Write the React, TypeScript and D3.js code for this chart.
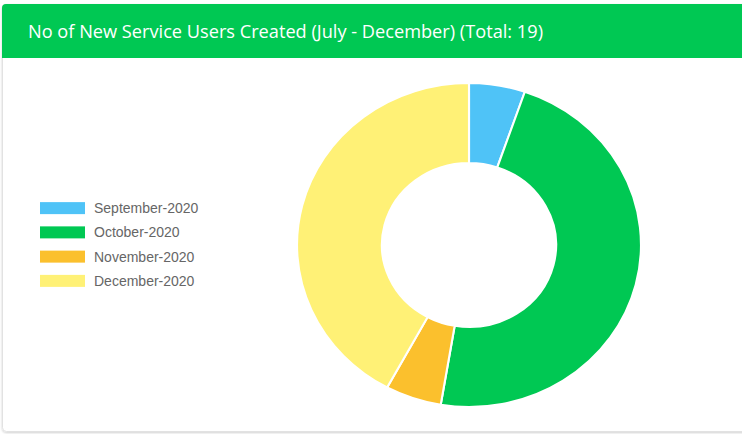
import React from "react";
import * as d3 from "d3";

const categories = ["September-2020", "October-2020", "November-2020", "December-2020"];
const values = [1, 9, 1, 8];
const colors = ["#4fc3f7", "#00c853", "#fbc02d", "#fff176"];
const title = "No of New Service Users Created (July - December) (Total: 19)";

export default function App() {
  const W = 742, H = 434;
  const cx = 469, cy = 245;
  const rOuter = 162, rInner = 82;
  const sx = 172 / 162;
  const pie = d3.pie<number>().sort(null).value((d) => d).startAngle(0).endAngle(2 * Math.PI);
  const arcs = pie(values);
  const arc = d3.arc<d3.PieArcDatum<number>>().innerRadius(rInner).outerRadius(rOuter);
  const legendY = d3.scaleBand<string>().domain(categories).range([196, 293]);

  return (
    <div style={{ position: "absolute", left: 0, top: 0 }}>
      <svg width={W} height={H} style={{ display: "block" }}>
        <defs>
          <filter id="sh" x="-5%" y="-5%" width="110%" height="110%">
            <feDropShadow dx="0" dy="1" stdDeviation="1.2" floodColor="#000" floodOpacity="0.18" />
          </filter>
        </defs>
        <rect x={2.5} y={4.5} width={770} height={427} rx={4} fill="#fff" stroke="#e2e2e2" filter="url(#sh)" />
        <path d="M2,58 L2,8 Q2,4 6,4 L780,4 L780,58 Z" fill="#00c853" />
        <text x={28} y={38} fill="#fff" fontFamily="'Open Sans', sans-serif" fontSize={17.5}
          textLength={515} lengthAdjust="spacingAndGlyphs">{title}</text>
        <g transform={`translate(${cx},${cy}) scale(${sx},1)`}>
          {arcs.map((a, i) => (
            <path key={categories[i]} d={arc(a) || ""} fill={colors[i]} stroke="#fff" strokeWidth={2} />
          ))}
        </g>
        <g>
          {categories.map((c, i) => {
            const y = (legendY(c) || 0) + legendY.bandwidth() / 2;
            return (
              <g key={c}>
                <rect x={40} y={y - 6} width={45} height={12} fill={colors[i]} />
                <text x={94} y={y + 5} fill="#666" fontFamily="'Liberation Sans', Arial, sans-serif" fontSize={14}>{c}</text>
              </g>
            );
          })}
        </g>
      </svg>
    </div>
  );
}
